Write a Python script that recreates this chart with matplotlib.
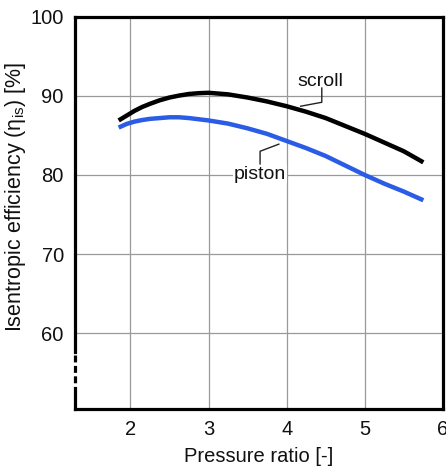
import matplotlib
matplotlib.use("Agg")
import matplotlib.pyplot as plt
from matplotlib import transforms

plt.rcParams['font.family'] = ['Liberation Sans', 'DejaVu Sans']
plt.rcParams['mathtext.fontset'] = 'custom'
plt.rcParams['mathtext.rm'] = 'Liberation Sans'
plt.rcParams['mathtext.it'] = 'Liberation Sans:italic'
plt.rcParams['lines.scale_dashes'] = False

# Data
pressure_ratio = [1.85, 1.95, 2.05, 2.15, 2.25, 2.375, 2.5, 2.625, 2.75, 2.875, 3.0, 3.25, 3.5, 3.75, 4.0, 4.25, 4.5, 4.75, 5.0, 5.25, 5.5, 5.75]
scroll_eff = [86.9, 87.5, 88.1, 88.6, 89.0, 89.45, 89.8, 90.05, 90.25, 90.35, 90.4, 90.2, 89.8, 89.3, 88.7, 88.0, 87.2, 86.2, 85.2, 84.1, 83.0, 81.6]
piston_eff = [86.0, 86.45, 86.75, 86.95, 87.1, 87.2, 87.3, 87.3, 87.2, 87.05, 86.9, 86.5, 85.9, 85.2, 84.3, 83.4, 82.4, 81.2, 80.0, 78.9, 77.9, 76.8]
x_ticks = [2, 3, 4, 5, 6]
y_ticks = [60, 70, 80, 90, 100]

fig = plt.figure(figsize=(4.46, 4.70), dpi=100)
ax = fig.add_axes([0.168, 0.130, 0.825, 0.834])

ax.set_xlim(1.29, 6.0)
ax.set_ylim(50.4, 100)
ax.set_xticks(x_ticks)
ax.set_yticks(y_ticks)
ax.tick_params(length=0, labelsize=14.5, colors='#111111')
ax.tick_params(axis='x', pad=8)
ax.tick_params(axis='y', pad=8)

ax.grid(True, color='#999999', linewidth=0.9)
ax.set_axisbelow(True)

for side in ['top', 'bottom', 'right']:
    ax.spines[side].set_linewidth(2.3)
    ax.spines[side].set_color('black')
ax.spines['left'].set_visible(False)

# broken left spine
trans = transforms.blended_transform_factory(ax.transAxes, ax.transData)
ax.plot([0, 0], [100, 57.6], transform=trans, color='black', lw=2.3, clip_on=False, solid_capstyle='projecting')
ax.plot([0, 0], [57.2, 53.6], transform=trans, color='black', lw=2.3, clip_on=False, dashes=(5, 2.5))
ax.plot([0, 0], [53.1, 50.4], transform=trans, color='black', lw=2.3, clip_on=False, solid_capstyle='projecting')

ax.plot(pressure_ratio, scroll_eff, color='black', lw=3.2, solid_capstyle='butt', solid_joinstyle='round', zorder=3)
ax.plot(pressure_ratio, piston_eff, color='#2b5ce6', lw=3.2, solid_capstyle='butt', solid_joinstyle='round', zorder=3)

# annotations with leader lines
ax.text(4.43, 91.8, 'scroll', fontsize=14, ha='center', va='center', color='#111111')
ax.plot([4.45, 4.45, 4.18], [91.0, 89.2, 88.7], color='#222222', lw=1.0, zorder=2)
ax.text(3.66, 80.1, 'piston', fontsize=14, ha='center', va='center', color='#111111',
        bbox=dict(facecolor='white', edgecolor='none', pad=0.5))
ax.plot([3.66, 3.66, 3.90], [81.4, 83.0, 83.9], color='#222222', lw=1.0, zorder=2)

ax.set_xlabel('Pressure ratio [-]', fontsize=14.5, color='#111111')
ax.xaxis.set_label_coords(0.5, -0.098)
ax.set_ylabel('Isentropic efficiency (η$_{\\mathrm{is}}$) [%]', fontsize=15.5, color='#111111')
ax.yaxis.set_label_coords(-0.128, 0.54)

fig.savefig('out.png', dpi=100)
